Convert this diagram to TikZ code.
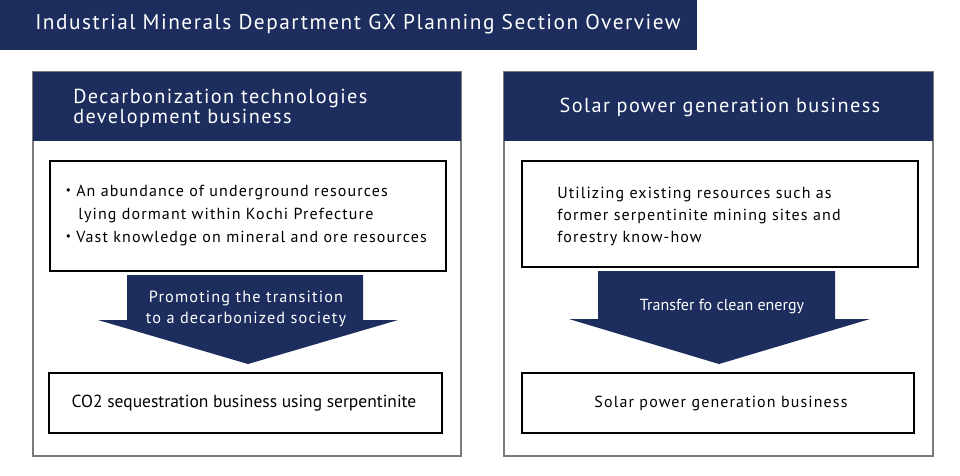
\documentclass[tikz,border=0pt]{standalone}
\usepackage{fontspec}
\setmainfont{PT Sans}
\newfontfamily\spaced[LetterSpace=7]{PT Sans}
\newfontfamily\cjk{Noto Sans CJK JP}
\usetikzlibrary{positioning,calc}
\definecolor{navy}{HTML}{1C2D5E}
\definecolor{framegray}{HTML}{7A7A7A}
\newcommand{\dotmark}{{\cjk ・}}

\begin{document}
\begin{tikzpicture}[x=0.75pt,y=-0.75pt,
    panel/.style={draw=framegray, line width=0.9pt, fill=white},
    inbox/.style={draw=black, line width=1.6pt, fill=white},
    headtext/.style={text=white, inner sep=0pt, align=left,
                     font=\spaced\fontsize{15.2}{15}\selectfont},
    bodytext/.style={inner sep=0pt, align=left,
                     font=\spaced\fontsize{12}{17.25}\selectfont},
    arrowtext/.style={text=white, inner sep=0pt, align=center,
                      font=\spaced\fontsize{12.2}{15.75}\selectfont}
  ]
  \useasboundingbox (0,0) rectangle (960,475);

  % title bar
  \fill[navy] (0,0) rectangle (697,50);
  \node[text=white, anchor=west, inner sep=0pt,
        font=\spaced\fontsize{16}{18}\selectfont] (title) at (35,24)
    {Industrial Minerals Department GX Planning Section Overview};

  % left panel
  \draw[panel] (33,72) rectangle (461,456);
  \fill[navy] (33,72) rectangle (461,141);
  \node[headtext, anchor=west] (decarbhead) at (73,108)
    {Decarbonization technologies\\development business};

  \draw[inbox] (50,161) rectangle (446,271);
  \node[bodytext, anchor=west] (resources) at (60,216)
    {\dotmark An abundance of underground resources\\
     \hspace*{13.5pt}lying dormant within Kochi Prefecture\\
     \dotmark Vast knowledge on mineral and ore resources};

  \fill[navy] (127,275) -- (363,275) -- (363,320) -- (398,320)
    -- (248,364) -- (98,320) -- (127,320) -- cycle;
  \node[arrowtext] (promote) at (246,309)
    {Promoting the transition\\to a decarbonized society};

  \draw[inbox] (49,373) rectangle (442,433);
  \node[inner sep=0pt, font=\fontsize{13.1}{15}\selectfont] (co2) at (244,403)
    {CO2 sequestration business using serpentinite};

  % right panel
  \draw[panel] (504,72) rectangle (933,456);
  \fill[navy] (504,72) rectangle (933,141);
  \node[headtext] (solarhead) at (720,107)
    {Solar power generation business};

  \draw[inbox] (522,161) rectangle (918,267);
  \node[bodytext, anchor=west, font=\spaced\fontsize{12}{16.5}\selectfont] (existing) at (557,216)
    {Utilizing existing resources such as\\
     former serpentinite mining sites and\\
     forestry know-how};

  \fill[navy] (598,271) -- (835,271) -- (835,319) -- (870,319)
    -- (719,364) -- (569,319) -- (598,319) -- cycle;
  \node[text=white, inner sep=0pt, font=\fontsize{12}{15}\selectfont] (transfer) at (722,307)
    {Transfer fo clean energy};

  \draw[inbox] (522,373) rectangle (914,433);
  \node[inner sep=0pt, font=\spaced\fontsize{12}{15}\selectfont] (solar) at (721,403)
    {Solar power generation business};
\end{tikzpicture}
\end{document}
